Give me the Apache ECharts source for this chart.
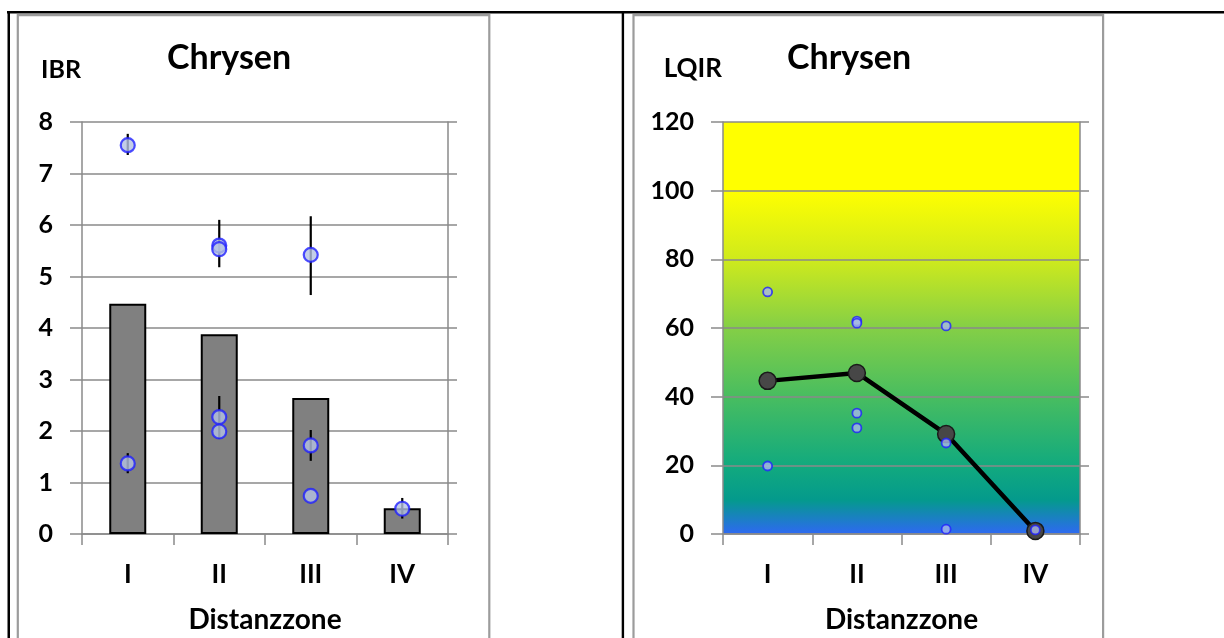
<!DOCTYPE html>
<html><head><meta charset="utf-8">
<script src="https://cdn.jsdelivr.net/npm/echarts@6/dist/echarts.min.js"></script>
<style>html,body{margin:0;padding:0;background:#fff}#c{width:1224px;height:638px}</style>
</head><body><div id="c"></div>
<script>
// ---- data ----
const categories = ['I', 'II', 'III', 'IV'];
const chartTitle = 'Chrysen';
const xName = 'Distanzzone';
// Left chart: IBR
const ibrBars = [4.47, 3.88, 2.64, 0.50];
const ibrPointCat = [0, 0, 1, 1, 1, 1, 2, 2, 2, 3];
const ibrPointVal = [7.55, 1.37, 5.60, 5.53, 2.27, 1.99, 5.42, 1.72, 0.74, 0.49];
const ibrErrLow  = [7.36, 1.18, 5.18, null, 1.85, null, 4.64, 1.42, null, 0.30];
const ibrErrHigh = [7.77, 1.57, 6.10, null, 2.68, null, 6.17, 2.02, null, 0.70];
// Right chart: LQIR
const lqirMean = [44.6, 46.9, 29.1, 0.9];
const lqirPointCat = [0, 0, 1, 1, 1, 1, 2, 2, 2, 3];
const lqirPointVal = [70.5, 19.8, 62.0, 61.4, 35.2, 30.9, 60.6, 26.5, 1.4, 1.2];
const ibrTicks = {min: 0, max: 8, interval: 1};
const lqirTicks = {min: 0, max: 120, interval: 20};

const FONT = 'Lato';
const gridGray = '#8a8a8a';
const bold = (size) => ({fontFamily: FONT, fontWeight: 'bold', fontSize: size, color: '#000'});

function xAxisFor(gi) {
  return {
    type: 'category', gridIndex: gi, data: categories, boundaryGap: true,
    axisLine: {lineStyle: {color: gridGray, width: 1.5}},
    axisTick: {show: true, length: 11, lineStyle: {color: gridGray, width: 1.5}},
    axisLabel: Object.assign(bold(26), {margin: 28}),
    name: xName, nameLocation: 'middle', nameGap: 72,
    nameTextStyle: bold(28)
  };
}
function yAxisFor(gi, t, name, showLabel, pos, nameSize) {
  return {
    type: 'value', gridIndex: gi, min: t.min, max: t.max, interval: t.interval,
    position: pos,
    axisLine: {show: true, lineStyle: {color: gridGray, width: 1.5}},
    axisTick: {show: true, length: pos === 'left' ? 12 : 9, lineStyle: {color: gridGray, width: 1.5}},
    axisLabel: Object.assign(bold(25), {show: showLabel, margin: 29}),
    splitLine: {show: pos === 'left', lineStyle: {color: gridGray, width: 1.5}},
    name: name, nameLocation: 'end', nameGap: 40,
    nameTextStyle: Object.assign(bold(nameSize || 25), {align: 'right', padding: [0, 1, 0, 0]})
  };
}

const pointStyleL = {color: '#b4c2e2', borderColor: '#2020ff', borderWidth: 2.2};
const pointStyleR = {color: '#a8b8ea', borderColor: '#2020ff', borderWidth: 1.8};

const option = {
  animation: false,
  backgroundColor: '#fff',
  title: [
    {text: chartTitle, left: 162, top: 36, textStyle: bold(34)},
    {text: chartTitle, left: 782, top: 36, textStyle: bold(34)}
  ],
  grid: [
    {left: 82, top: 122, width: 366, height: 412, outerBoundsMode: 'none', containLabel: false},
    {left: 723, top: 122, width: 357, height: 412, outerBoundsMode: 'none', containLabel: false,
     show: true, borderWidth: 0,
     backgroundColor: new echarts.graphic.LinearGradient(0, 0, 0, 1, [
       {offset: 0, color: '#ffff00'},
       {offset: 0.1667, color: '#ffff00'},
       {offset: 0.333, color: '#cfea1c'},
       {offset: 0.5, color: '#84cf46'},
       {offset: 0.667, color: '#48bd60'},
       {offset: 0.833, color: '#12aa7e'},
       {offset: 0.917, color: '#049a8c'},
       {offset: 1, color: '#2e69f2'}
     ])}
  ],
  xAxis: [xAxisFor(0), xAxisFor(1)],
  yAxis: [
    yAxisFor(0, ibrTicks, 'IBR', true, 'left', 25),
    yAxisFor(0, ibrTicks, '', false, 'right'),
    yAxisFor(1, lqirTicks, 'LQIR', true, 'left', 26),
    yAxisFor(1, lqirTicks, '', false, 'right')
  ],
  series: [
    {type: 'bar', xAxisIndex: 0, yAxisIndex: 0, data: ibrBars, barWidth: 37,
     itemStyle: {color: '#808080', borderColor: '#000', borderWidth: 2}, z: 2},
    {type: 'custom', xAxisIndex: 0, yAxisIndex: 0, z: 3,
     data: ibrPointCat.map((c, i) => [c, ibrErrLow[i], ibrErrHigh[i]]).filter(d => d[1] != null),
     renderItem: function (params, api) {
       const a = api.coord([api.value(0), api.value(1)]);
       const b = api.coord([api.value(0), api.value(2)]);
       return {type: 'line', shape: {x1: a[0], y1: a[1], x2: b[0], y2: b[1]},
               style: {stroke: '#000', lineWidth: 2.2}};
     }},
    {type: 'scatter', xAxisIndex: 0, yAxisIndex: 0, z: 4, symbol: 'circle', symbolSize: 14,
     data: ibrPointCat.map((c, i) => [c, ibrPointVal[i]]), itemStyle: pointStyleL},
    {type: 'line', xAxisIndex: 1, yAxisIndex: 2, z: 3, data: lqirMean,
     symbol: 'circle', symbolSize: 17,
     lineStyle: {color: '#000', width: 4.5},
     itemStyle: {color: '#474747', borderColor: '#1a1a1a', borderWidth: 1.5}},
    {type: 'scatter', xAxisIndex: 1, yAxisIndex: 2, z: 4, symbol: 'circle', symbolSize: 9,
     data: lqirPointCat.map((c, i) => [c, lqirPointVal[i]]), itemStyle: pointStyleR}
  ],
  graphic: [
    {type: 'rect', shape: {x: 7, y: 11, width: 1217, height: 2.5}, style: {fill: '#000'}, z: 100},
    {type: 'rect', shape: {x: 7.5, y: 11, width: 2.5, height: 640}, style: {fill: '#000'}, z: 100},
    {type: 'rect', shape: {x: 621.7, y: 11, width: 2.4, height: 640}, style: {fill: '#000'}, z: 100},
    {type: 'rect', shape: {x: 17.8, y: 15.2, width: 471.5, height: 700}, style: {fill: 'none', stroke: '#9c9c9c', lineWidth: 2.2}, z: 100},
    {type: 'rect', shape: {x: 633.5, y: 15.2, width: 469.6, height: 700}, style: {fill: 'none', stroke: '#9c9c9c', lineWidth: 2.2}, z: 100}
  ]
};
echarts.init(document.getElementById('c')).setOption(option);
</script></body></html>
